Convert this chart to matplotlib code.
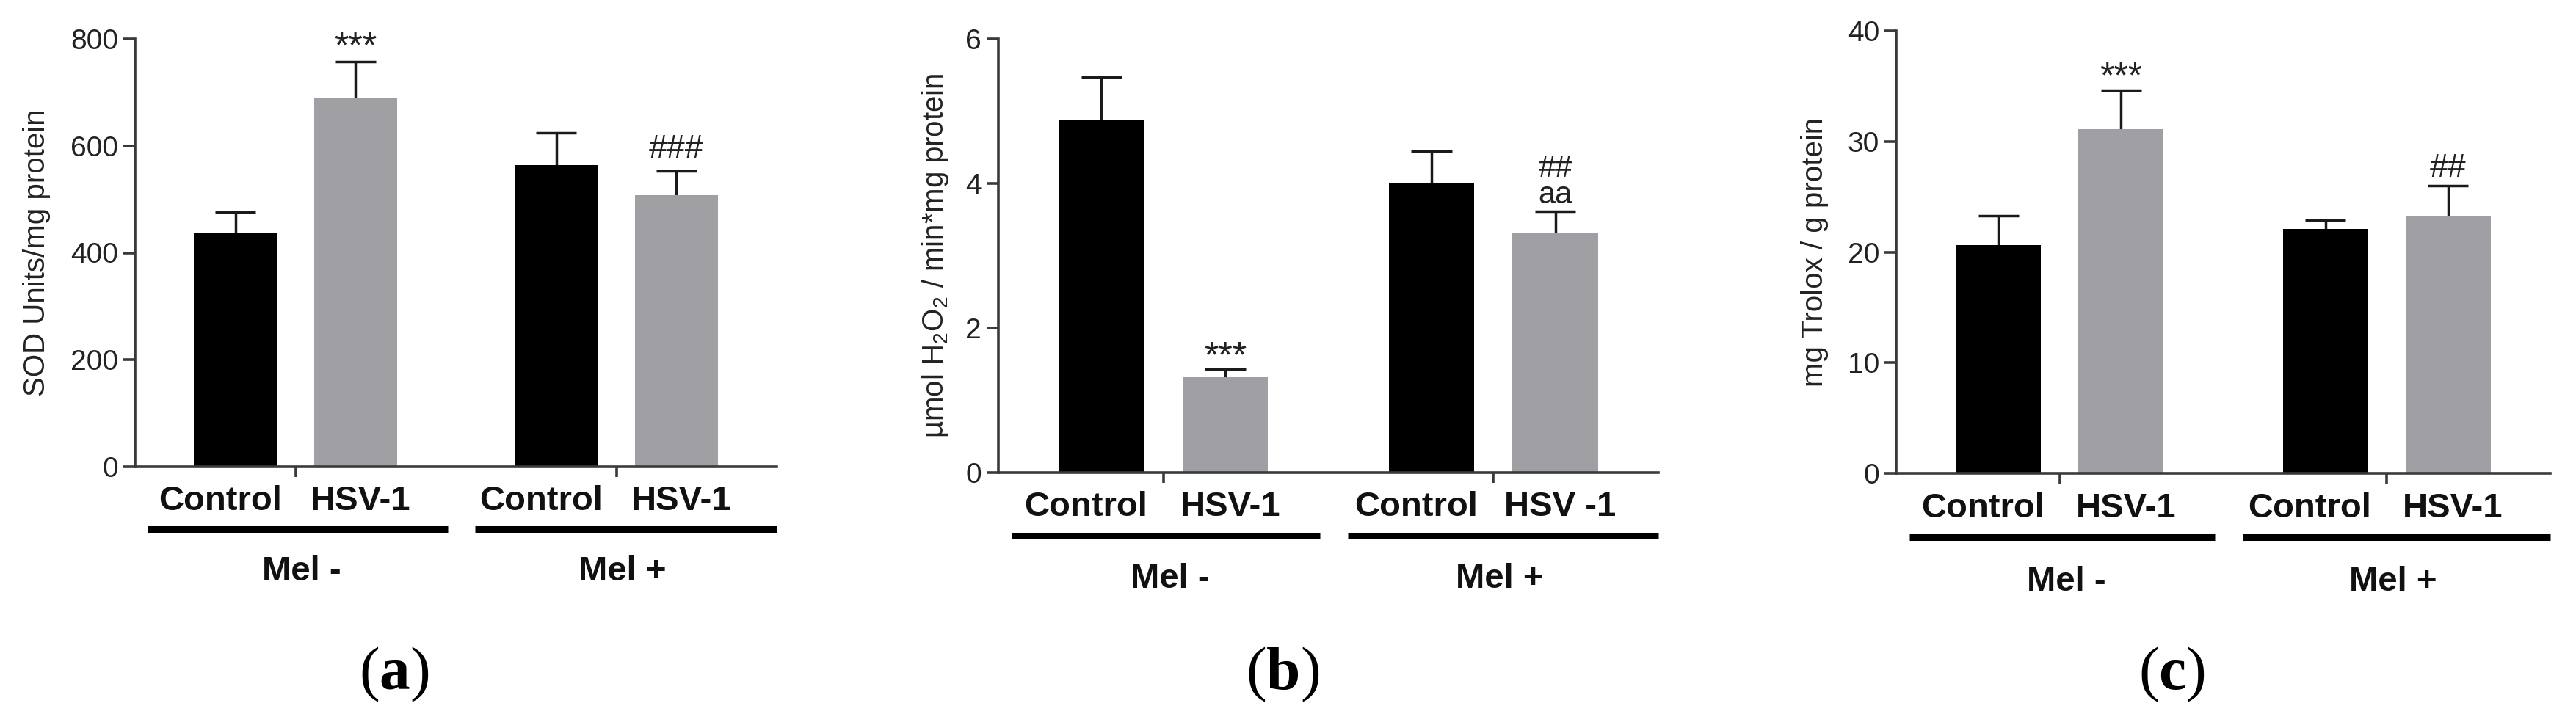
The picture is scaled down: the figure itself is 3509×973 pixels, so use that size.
import numpy as np
import matplotlib
matplotlib.use("Agg")
import matplotlib.pyplot as plt
from matplotlib import transforms

plt.rcParams['font.family'] = ['Liberation Sans', 'DejaVu Sans']
plt.rcParams['mathtext.fontset'] = 'custom'
plt.rcParams['mathtext.rm'] = 'Liberation Sans'
plt.rcParams['mathtext.bf'] = 'Liberation Serif:bold'

# data
bar_x = [0.625, 1.375, 2.625, 3.375]
group_x = [1, 3]
groups = ['Mel -', 'Mel +']

sod_mean = [437, 690, 564, 508]
sod_err = [39, 67, 60, 45]
cat_mean = [4.88, 1.32, 4.00, 3.32]
cat_err = [0.59, 0.11, 0.45, 0.29]
tac_mean = [20.6, 31.1, 22.1, 23.3]
tac_err = [2.7, 3.5, 0.8, 2.7]

sod_labels = ['Control', 'HSV-1', 'Control', 'HSV-1']
cat_labels = ['Control', 'HSV-1', 'Control', 'HSV -1']
tac_labels = ['Control', 'HSV-1', 'Control', 'HSV-1']

# (bar index, text, offset above error cap in points, font size, vertical align)
sod_marks = [(1, '***', 14, 36, 'center'), (3, '###', 21, 32, 'center')]
cat_marks = [(1, '***', 11, 36, 'center'), (3, '##\naa', 2, 30, 'bottom')]
tac_marks = [(1, '***', 12, 36, 'center'), (3, '##', 17, 32, 'center')]

bar_colors = ['black', '#a09fa4', 'black', '#a09fa4']

panels = [
    dict(rect=[184, 53, 1058, 636], mean=sod_mean, err=sod_err, labels=sod_labels,
         marks=sod_marks, ymax=800, ticks=[0, 200, 400, 600, 800],
         ylabel='SOD Units/mg protein', ylab_x=-0.153, tag='a', tag_x=0.153),
    dict(rect=[1360, 53, 2259, 644], mean=cat_mean, err=cat_err, labels=cat_labels,
         marks=cat_marks, ymax=6, ticks=[0, 2, 4, 6],
         ylabel=r'µmol H$_\mathrm{2}$O$_\mathrm{2}$ / min*mg protein', ylab_x=-0.096,
         tag='b', tag_x=0.498),
    dict(rect=[2583, 42, 3474, 645], mean=tac_mean, err=tac_err, labels=tac_labels,
         marks=tac_marks, ymax=40, ticks=[0, 10, 20, 30, 40],
         ylabel='mg Trolox / g protein', ylab_x=-0.125, tag='c', tag_x=0.843),
]

W, H = 3509, 973
fig = plt.figure(figsize=(W / 100, H / 100), dpi=100)

for p in panels:
    x0, y0, x1, y1 = p['rect']
    ax = fig.add_axes([x0 / W, 1 - y1 / H, (x1 - x0) / W, (y1 - y0) / H])

    mean = np.array(p['mean'])
    top = mean + np.array(p['err'])
    ax.bar(bar_x, mean, width=0.52, color=bar_colors, edgecolor='none', zorder=2)
    # upper error bars only
    ax.vlines(bar_x, mean, top, color='#1a1a1a', linewidth=2.5, zorder=1)
    ax.hlines(top, np.array(bar_x) - 0.124, np.array(bar_x) + 0.124,
              color='#1a1a1a', linewidth=2.5, zorder=1)

    for i, txt, off, fs, va in p['marks']:
        ax.annotate(txt, (bar_x[i], top[i]), xytext=(0, off),
                    textcoords='offset points', ha='center', va=va,
                    fontsize=fs, color='#222222', linespacing=0.85)

    ax.set_xlim(0, 4)
    ax.set_ylim(0, p['ymax'])
    ax.set_yticks(p['ticks'])
    ax.set_xticks(group_x)
    ax.set_xticklabels([])
    ax.spines['top'].set_visible(False)
    ax.spines['right'].set_visible(False)
    for s in ['left', 'bottom']:
        ax.spines[s].set_linewidth(2.6)
        ax.spines[s].set_color('#3a3a3a')
    ax.tick_params(axis='y', length=11.5, width=2.6, color='#3a3a3a',
                   labelsize=28, labelcolor='#222222', pad=5)
    ax.tick_params(axis='x', length=10, width=2.6, color='#3a3a3a')

    ax.text(p['ylab_x'], 0.5, p['ylabel'], transform=ax.transAxes, rotation=90,
            ha='center', va='center', fontsize=29, color='#222222')

    trans = transforms.blended_transform_factory(ax.transData, ax.transAxes)
    offsets = [-0.095, 0.03, -0.095, 0.03]
    for x, lab, dx in zip(bar_x, p['labels'], offsets):
        ax.text(x + dx, -0.08, lab, transform=trans, ha='center', va='center',
                fontsize=34, fontweight='bold', color='#111111')
    for (a, b) in [(0.08, 1.95), (2.12, 4.0)]:
        ax.plot([a, b], [-0.145, -0.145], transform=trans, color='black',
                linewidth=6.5, clip_on=False, solid_capstyle='butt')
    for gx, g in zip(group_x, groups):
        ax.text(gx + 0.04, -0.246, g, transform=trans, ha='center', va='center',
                fontsize=34, fontweight='bold', color='#111111')

    fig.text(p['tag_x'], 1 - 919 / H, r'($\mathbf{%s}$)' % p['tag'], ha='center',
             va='center', fontsize=60, family='Liberation Serif')

fig.savefig('out.png', dpi=100, facecolor='white')
